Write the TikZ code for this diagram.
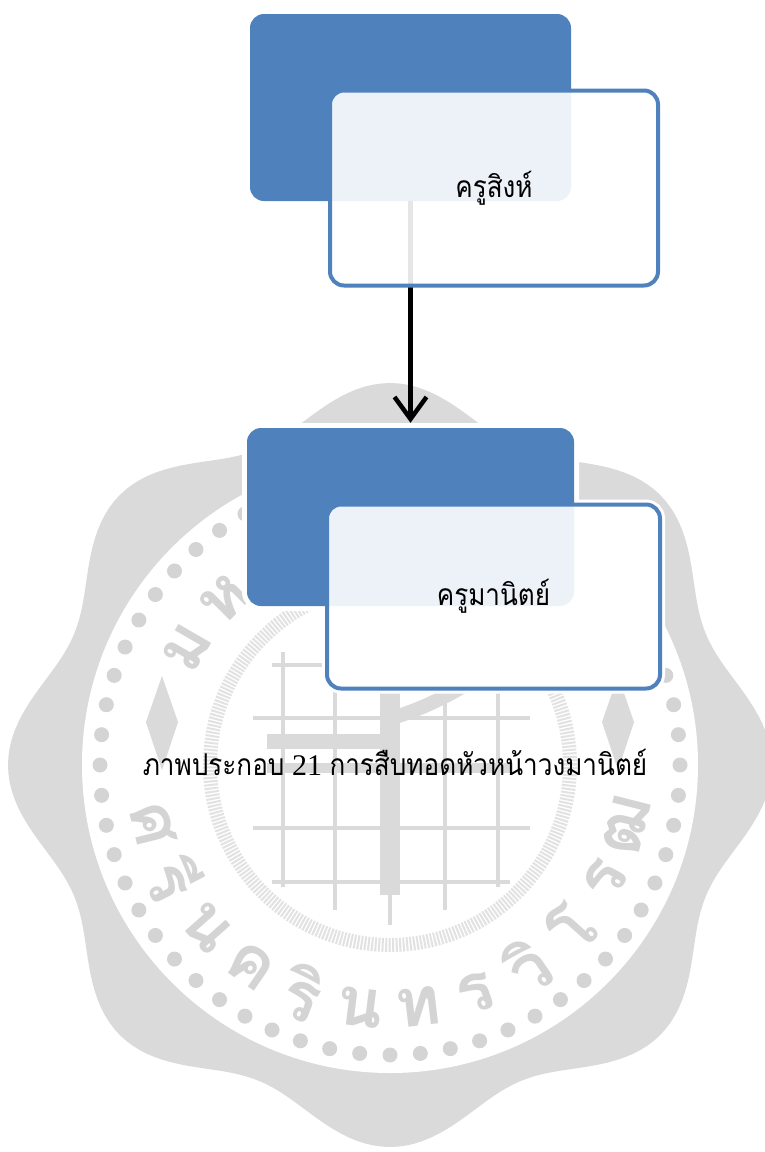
\documentclass[tikz,border=0pt]{standalone}
\usepackage{fontspec}
\setmainfont{Liberation Serif}
\newfontfamily\thaifont[Script=Thai, FakeStretch=0.87]{Loma}
\newfontfamily\sealfont[Script=Thai]{Loma}
\usetikzlibrary{arrows.meta}
\definecolor{steelblue}{RGB}{79, 129, 189}
\definecolor{sealgray}{RGB}{218, 218, 218}
\definecolor{sealdark}{RGB}{212, 212, 212}
\definecolor{ropegray}{RGB}{226, 226, 226}

\begin{document}
\begin{tikzpicture}[x=1pt, y=-1pt,
        backbox/.style={fill=steelblue, rounded corners=14pt, inner sep=0pt,
                        preaction={draw=white, line width=10pt}},
        basebox/.style={fill=white, draw=white, line width=10pt, rounded corners=14pt, inner sep=0pt},
        frontbox/.style={draw=steelblue, line width=4pt, fill=white, fill opacity=0.9, text opacity=1,
                         rounded corners=14pt, inner sep=0pt, font=\thaifont\fontsize{30}{34}\selectfont},
        sealline/.style={sealgray, line width=4pt},
        sealletter/.style={sealdark, font=\sealfont\bfseries\fontsize{68}{72}\selectfont}]
    \useasboundingbox (0,0) rectangle (764,1152);
    % watermark seal
    \coordinate (seal) at (390,765);
    \fill[sealgray] plot[domain=0:360, samples=289, variable=\t]
        ({390+(362+20*cos(8*\t))*cos(\t)}, {765-(362+20*cos(8*\t))*sin(\t)}) -- cycle;
    \fill[white] (seal) circle[radius=308pt];
    \foreach \a in {0,6,...,354}
        \fill[sealdark] ({390+290*cos(\a)}, {765-290*sin(\a)}) circle[radius=7.5pt];
    \draw[ropegray, line width=14pt, dash pattern=on 2pt off 1.5pt] (seal) circle[radius=180pt];
    \foreach \ch [count=\i] in {ม,ห,า,วิ,ท,ย,า,ลั,ย}
        \node[sealletter, rotate={150-15*(\i-1)-90}] at ({390+234*cos(150-15*(\i-1))}, {765-234*sin(150-15*(\i-1))}) {\ch};
    \foreach \ch [count=\i] in {ศ,รี,น,ค,ริ,น,ท,ร,วิ,โ,ร,ฒ}
        \node[sealletter, rotate={194+13.8*(\i-1)+90}] at ({390+244*cos(194+13.8*(\i-1))}, {765-244*sin(194+13.8*(\i-1))}) {\ch};
    \foreach \x/\ya/\yb in {283/652/887, 335/640/910, 445/640/910, 498/652/887, 390/640/925}
        \draw[sealline] (\x,\ya) -- (\x,\yb);
    \foreach \y/\xa/\xb in {665/272/530, 718/253/530, 828/253/530, 882/272/510}
        \draw[sealline] (\xa,\y) -- (\xb,\y);
    \draw[sealgray, line width=20pt] (390,640) -- (390,895);
    \draw[sealgray, line width=15pt] (267,741) -- (400,741);
    \draw[sealgray, line width=10pt] (267,768) -- (513,768);
    \draw[sealgray, line width=14pt] (392,718) .. controls (425,708) and (465,690) .. (525,645);
    \foreach \x in {162,618}
        \fill[sealgray] (\x,676) -- (\x+16,722) -- (\x,770) -- (\x-16,722) -- cycle;

    % boxes
    \node[basebox, minimum width=328pt, minimum height=195pt] (sing base) at (494,188) {};
    \node[basebox, minimum width=333pt, minimum height=184pt] (manit base) at (493.5,596.5) {};
    \node[backbox, minimum width=321pt, minimum height=187pt] (sing back) at (410.5,107.5) {};
    \node[backbox, minimum width=327pt, minimum height=178pt] (manit back) at (410.5,517) {};
    \draw[line width=4.5pt, -{Straight Barb[length=22pt, width=32pt]}, shorten >=5pt] (sing back) -- (manit back);
    \node[frontbox, minimum width=328pt, minimum height=195pt] (sing) at (494,188) {ครูสิงห์};
    \node[frontbox, minimum width=333pt, minimum height=184pt] (manit) at (493.5,596.5) {ครูมานิตย์};

    % caption
    \node[anchor=base, font=\fontsize{30}{34}\selectfont] (caption) at (395,775)
        {{\thaifont ภาพประกอบ} 21 {\thaifont การสืบทอดหัวหน้าวงมานิตย์}};
\end{tikzpicture}
\end{document}
